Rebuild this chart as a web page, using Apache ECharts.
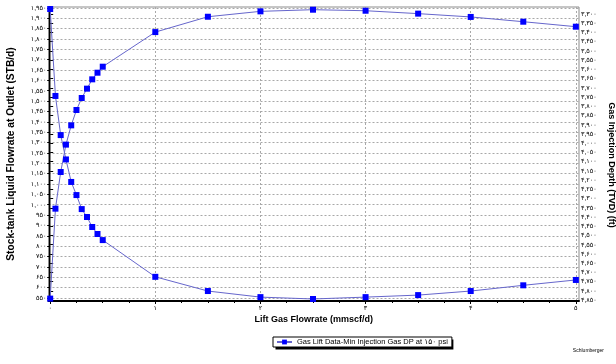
<!DOCTYPE html>
<html>
<head>
<meta charset="utf-8">
<script src="https://cdn.jsdelivr.net/npm/echarts@6/dist/echarts.min.js"></script>
<style>
  html, body { margin: 0; padding: 0; background: #fff; }
  #chart { width: 616px; height: 364px; }
</style>
</head>
<body>
<div id="chart"></div>
<script>
// lift gas rate (mmscf/d) for each computed point
var gasRate = [0, 0.05, 0.1, 0.15, 0.2, 0.25, 0.3, 0.35, 0.4, 0.45, 0.5, 1, 1.5, 2, 2.5, 3, 3.5, 4, 4.5, 5];
// stock-tank liquid at outlet (STB/d), left axis
var liquidRate = [547, 981, 1158, 1290, 1383, 1457, 1515, 1560, 1605, 1637, 1666, 1833, 1907, 1933, 1941, 1936, 1922, 1906, 1883, 1859];
// gas injection depth TVD (ft), right axis
var injectionDepth = [3273, 3744, 3956, 4088, 4210, 4281, 4357, 4400, 4454, 4492, 4525, 4724, 4801, 4834, 4844, 4834, 4823, 4801, 4770, 4741];

var xTicks = [0, 1, 2, 3, 4, 5];
var xMinorTicks = [0.25, 0.5, 0.75, 1.25, 1.5, 1.75, 2.25, 2.5, 2.75, 3.25, 3.5, 3.75, 4.25, 4.5, 4.75];
var liquidTicks = [550, 600, 650, 700, 750, 800, 850, 900, 950, 1000, 1050, 1100, 1150, 1200, 1250, 1300,
  1350, 1400, 1450, 1500, 1550, 1600, 1650, 1700, 1750, 1800, 1850, 1900, 1950];
var depthTicks = [3300, 3350, 3400, 3450, 3500, 3550, 3600, 3650, 3700, 3750, 3800, 3850, 3900, 3950, 4000, 4050,
  4100, 4150, 4200, 4250, 4300, 4350, 4400, 4450, 4500, 4550, 4600, 4650, 4700, 4750, 4800, 4850];

var seriesName = 'Gas Lift Data-Min Injection Gas DP at ۱۵۰ psi';
var font = "'Liberation Sans', 'DejaVu Sans', sans-serif";
var faDigits = '۰۱۲۳۴۵۶۷۸۹';

function toFa(v) {
  var s = String(Math.round(v)).replace(/\B(?=(\d{3})+(?!\d))/g, ',');
  return s.replace(/\d/g, function (d) { return faDigits[+d]; });
}

function pairs(xs, ys) {
  return xs.map(function (x, i) { return [x, ys[i]]; });
}

// legend box size, so the drop shadow can sit behind it
var legendFont = 7.5;
var legendLeft = 273, legendTop = 337, legendH = 10;
var ctx = document.createElement('canvas').getContext('2d');
ctx.font = legendFont + 'px ' + font;
var legendW = 3 + 15 + 5 + ctx.measureText(seriesName).width + 4;

var gridLine = { show: true, lineStyle: { color: '#a8a8a8', type: [2, 2], width: 1 } };
var tickLabel = { fontSize: 6.5, color: '#000', fontFamily: font, formatter: toFa };
var titleStyle = { fontSize: 9, fontWeight: 'bold', color: '#000', fontFamily: font };

var chart = echarts.init(document.getElementById('chart'));
chart.setOption({
  animation: false,
  backgroundColor: '#fff',
  textStyle: { fontFamily: font },
  grid: {
    left: 48.5, right: 37, top: 7, bottom: 63,
    show: true, borderColor: '#8c8c8c', borderWidth: 1,
    outerBoundsMode: 'none'
  },
  legend: {
    left: legendLeft, top: legendTop,
    padding: [1, 4, 1, 3],
    itemWidth: 15, itemHeight: 6,
    backgroundColor: '#fff',
    borderColor: '#000', borderWidth: 1,
    textStyle: { fontSize: legendFont, color: '#000', fontFamily: font },
    data: [seriesName]
  },
  xAxis: [
    {
      type: 'value', min: -0.016, max: 5.03, position: 'bottom',
      name: 'Lift Gas Flowrate (mmscf/d)', nameLocation: 'middle', nameGap: 14,
      nameMoveOverlap: false, nameTextStyle: titleStyle,
      axisLine: { show: true, onZero: false, lineStyle: { color: '#000', width: 2 } },
      axisTick: { show: true, length: 3, customValues: xTicks, lineStyle: { color: '#000' } },
      axisLabel: Object.assign({ customValues: xTicks, margin: 4 }, tickLabel),
      splitLine: gridLine
    },
    {
      type: 'value', min: -0.016, max: 5.03, position: 'bottom',
      axisLine: { show: false },
      axisTick: { show: true, length: 2, customValues: xMinorTicks, lineStyle: { color: '#000' } },
      axisLabel: { show: false },
      splitLine: { show: false }
    }
  ],
  yAxis: [
    {
      type: 'value', min: 535.5, max: 1954, position: 'left',
      name: 'Stock-tank Liquid Flowrate at Outlet (STB/d)', nameLocation: 'middle', nameGap: 32,
      nameMoveOverlap: false, nameTextStyle: Object.assign({}, titleStyle, { fontSize: 10.2 }),
      axisLine: { show: true, lineStyle: { color: '#000', width: 2 } },
      axisTick: { show: true, length: 3, customValues: liquidTicks, lineStyle: { color: '#000' } },
      axisLabel: Object.assign({ customValues: liquidTicks, margin: 2 }, tickLabel),
      splitLine: gridLine
    },
    {
      type: 'value', min: 3262, max: 4855, inverse: true, position: 'right',
      name: 'Gas Injection Depth (TVD) (ft)', nameLocation: 'middle', nameGap: 28, nameRotate: -90,
      nameMoveOverlap: false,
      nameTextStyle: Object.assign({}, titleStyle, { padding: [0, 0, 0, 22] }),
      axisLine: { show: true, lineStyle: { color: '#8c8c8c', width: 1 } },
      axisTick: { show: true, length: 3, customValues: depthTicks, lineStyle: { color: '#000' } },
      axisLabel: Object.assign({ customValues: depthTicks, margin: 2 }, tickLabel),
      splitLine: { show: false }
    }
  ],
  series: [
    {
      name: seriesName, type: 'line', xAxisIndex: 0, yAxisIndex: 0,
      data: pairs(gasRate, liquidRate),
      symbol: 'rect', symbolSize: 6, showAllSymbol: true,
      lineStyle: { color: '#6666cc', width: 1 },
      itemStyle: { color: '#0000ff' },
      color: '#0000ff'
    },
    {
      name: seriesName, type: 'line', xAxisIndex: 0, yAxisIndex: 1,
      data: pairs(gasRate, injectionDepth),
      symbol: 'rect', symbolSize: 6, showAllSymbol: true,
      lineStyle: { color: '#6666cc', width: 1 },
      itemStyle: { color: '#0000ff' },
      color: '#0000ff'
    }
  ],
  graphic: [
    {
      // legend drop shadow
      type: 'rect', z: 0, silent: true,
      shape: { x: legendLeft + 2.5, y: legendTop + 2.5, width: legendW, height: legendH },
      style: { fill: '#000' }
    },
    {
      type: 'text', right: 12, top: 348,
      style: { text: 'Schlumberger', fontSize: 5, fill: '#000', fontFamily: font }
    }
  ]
});
</script>
</body>
</html>
